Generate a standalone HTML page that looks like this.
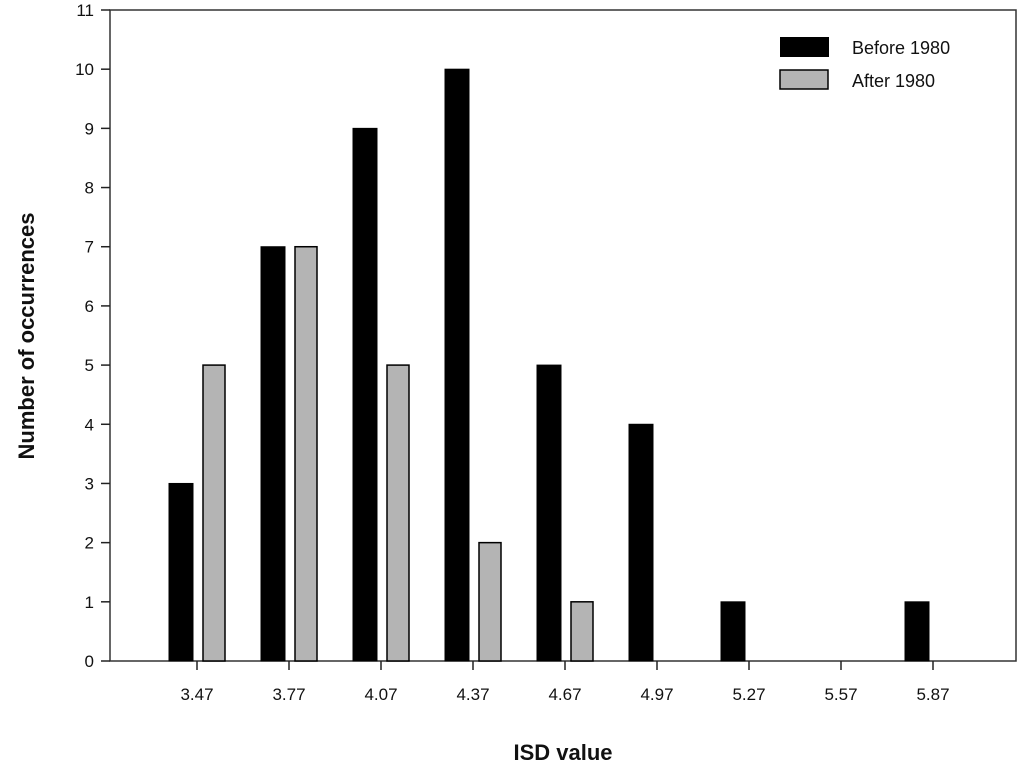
<!DOCTYPE html>
<html><head><meta charset="utf-8"><style>
body{margin:0;background:#fff;}
svg{display:block;font-family:"Liberation Sans",Arial,sans-serif;}
</style></head><body>
<svg id="chart" width="1024" height="770" xmlns="http://www.w3.org/2000/svg"></svg>
<script>
const categories=["3.47","3.77","4.07","4.37","4.67","4.97","5.27","5.57","5.87"];
const before=[3,7,9,10,5,4,1,0,1];
const after=[5,7,5,2,1,0,0,0,0];
const yTicks=[0,1,2,3,4,5,6,7,8,9,10,11];
const NS="http://www.w3.org/2000/svg";
const svg=document.getElementById('chart');
const L=110,R=1016,T=10,B=661;
const y=v=>B-(v/11)*(B-T);
const x=i=>197+i*92;
function mk(t,a,txt){const e=document.createElementNS(NS,t);for(const k in a)e.setAttribute(k,a[k]);if(txt!==undefined)e.textContent=txt;svg.appendChild(e);return e;}
let frame=mk('rect',{x:L,y:T,width:R-L,height:B-T,fill:'none',stroke:'#333','stroke-width':1.5});


yTicks.forEach(v=>{
 let l=mk('line',{x1:L-9,x2:L,y1:y(v),y2:y(v),stroke:'#222','stroke-width':1.5});
 
 
 let t=mk('text',{x:L-16,y:y(v)+6,'text-anchor':'end','font-size':17,fill:'#111'},v);
 
 
});
categories.forEach((c,i)=>{
 let l=mk('line',{x1:x(i),x2:x(i),y1:B,y2:B+9,stroke:'#222','stroke-width':1.5});
 
 
 let t=mk('text',{x:x(i),y:B+39,'text-anchor':'middle','font-size':17,fill:'#111'},c);
 
 
 if(before[i]>0){
  let b=mk('rect',{x:x(i)-28,y:y(before[i]),width:24,height:B-y(before[i]),fill:'#000',stroke:'#000'});
  
  
 }
 if(after[i]>0){
  let b=mk('rect',{x:x(i)+6,y:y(after[i]),width:22,height:B-y(after[i]),fill:'#b4b4b4',stroke:'#000','stroke-width':1.5});
  
  
 }
});
let xt=mk('text',{x:563,y:760,'text-anchor':'middle','font-size':22,'font-weight':'bold',fill:'#111'},'ISD value');


let yt=mk('text',{x:0,y:0,'text-anchor':'middle','font-size':22,'font-weight':'bold',fill:'#111',transform:'translate(34,336) rotate(-90)'},'Number of occurrences');


let lb=mk('rect',{x:780,y:37,width:49,height:20,fill:'#000'});


let lt=mk('text',{x:852,y:54,'font-size':18,fill:'#111'},'Before 1980');


let la=mk('rect',{x:780,y:70,width:48,height:19,fill:'#b4b4b4',stroke:'#000','stroke-width':1.5});


let lt2=mk('text',{x:852,y:87,'font-size':18,fill:'#111'},'After 1980');


</script>
</body></html>
